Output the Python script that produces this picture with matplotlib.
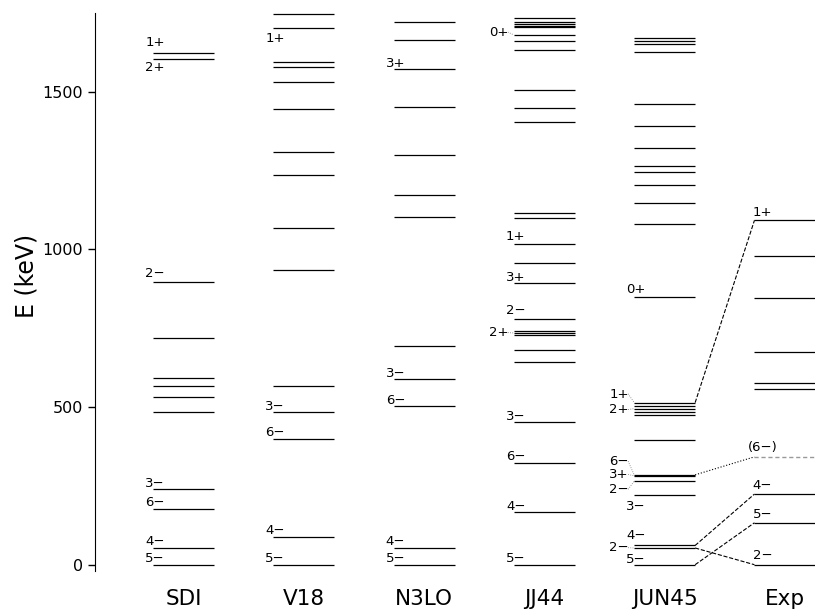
import matplotlib
matplotlib.use('Agg')
import matplotlib.pyplot as plt

# level energies (keV) for each column
columns = ['SDI', 'V18', 'N3LO', 'JJ44', 'JUN45', 'Exp']

sdi = [0, 54, 177, 241, 484, 532, 566, 591, 719, 896, 1605, 1623]
v18 = [0, 87, 399, 484, 566, 935, 1067, 1236, 1310, 1445, 1532, 1577, 1594,
       1703, 1747]
n3lo = [0, 53, 504, 590, 692, 1104, 1171, 1299, 1450, 1571, 1665, 1721]
jj44 = [0, 167, 323, 453, 642, 681, 729, 735, 740, 780, 892, 958, 1018, 1098,
        1115, 1404, 1447, 1504, 1631, 1661, 1680, 1704, 1709, 1716, 1721, 1734]
jun45 = [0, 53, 61, 220, 265, 282, 285, 397, 476, 485, 495, 504, 514, 850,
         1081, 1146, 1205, 1246, 1264, 1323, 1392, 1460, 1625, 1651, 1662, 1670]
exp = [0, 133, 224, 556, 575, 673, 845, 980, 1092]
exp_tentative = [342]

# spin labels: (text, level energy, label energy, with connector)
sdi_labels = [('5−', 0, 7, False), ('4−', 54, 61, False), ('6−', 177, 185, False),
              ('3−', 241, 248, False), ('2−', 896, 911, False),
              ('2+', 1605, 1565, False), ('1+', 1623, 1645, False)]
v18_labels = [('5−', 0, 10, False), ('4−', 87, 98, False), ('6−', 399, 407, False),
              ('3−', 484, 490, False), ('1+', 1703, 1657, False)]
n3lo_labels = [('5−', 0, 10, False), ('4−', 53, 63, False), ('6−', 504, 511, False),
               ('3−', 590, 595, False), ('3+', 1571, 1577, False)]
jj44_labels = [('5−', 0, 7, False), ('4−', 167, 174, False), ('6−', 323, 331, False),
               ('3−', 453, 460, False), ('2+', 735, 724, True), ('2−', 780, 796, False),
               ('3+', 892, 899, False), ('1+', 1018, 1031, False),
               ('0+', 1680, 1677, True)]
jun45_labels = [('5−', 0, 5, False), ('2−', 53, 42, True), ('4−', 61, 82, False),
                ('3−', 220, 174, False), ('2−', 265, 227, True), ('3+', 282, 274, True),
                ('6−', 285, 316, True), ('2+', 495, 480, True), ('1+', 514, 530, True),
                ('0+', 850, 862, False)]
exp_labels = [('2−', 0, 18), ('5−', 133, 148), ('4−', 224, 240), ('(6−)', 342, 362),
              ('1+', 1092, 1105)]

# JUN45 -> Exp correspondences: (JUN45 level, Exp level, style)
links = [(61, 224, '--'), (53, 0, '--'), (0, 133, '--'), (514, 1092, '--'),
         (285, 342, ':')]


def main():
    fig = plt.figure(figsize=(8.15, 6.13), dpi=100)
    ax = fig.add_axes([0.1166, 0.0685, 0.8834, 0.9105])

    hw = 0.2535
    fs = 9.5
    levels = [sdi, v18, n3lo, jj44, jun45, exp]
    labels = [sdi_labels, v18_labels, n3lo_labels, jj44_labels, jun45_labels]

    for i, lev in enumerate(levels):
        ax.hlines(lev, i - hw, i + hw, colors='black', lw=0.9)

    ax.hlines(exp_tentative, 5 - hw, 5 + hw, colors='#999999', lw=1.0,
              linestyles=(0, (3, 2)))

    for i, labs in enumerate(labels):
        left = i - hw
        for txt, e, ey, conn in labs:
            if conn:
                ax.text(left - 0.125, ey, txt, fontsize=fs, ha='center', va='baseline')
                ax.plot([left - 0.05, left], [ey + 12, e], color='#777777',
                        lw=0.6, ls=':')
            else:
                ax.text(left + 0.015, ey, txt, fontsize=fs, ha='center', va='baseline')

    for txt, e, ey in exp_labels:
        ax.text(5 - hw + 0.066, ey, txt, fontsize=fs, ha='center', va='baseline')

    for a, b, ls in links:
        ax.plot([4 + hw, 5 - hw], [a, b], color='black', lw=0.8, ls=ls)

    ax.set_xlim(-0.736, 5.25)
    ax.set_ylim(-20, 1750)
    ax.set_xticks(range(len(columns)))
    ax.set_xticklabels(columns, fontsize=15.5)
    ax.tick_params(axis='x', length=0, pad=13)
    ax.set_yticks([0, 500, 1000, 1500])
    ax.tick_params(axis='y', labelsize=11.5, length=5, width=1)
    ax.set_ylabel('E (keV)', fontsize=17)
    ax.yaxis.set_label_coords(-0.079, 0.529)
    for side in ['top', 'right', 'bottom']:
        ax.spines[side].set_visible(False)

    fig.savefig('out.png', dpi=100)


if __name__ in '__main__':
    main()
